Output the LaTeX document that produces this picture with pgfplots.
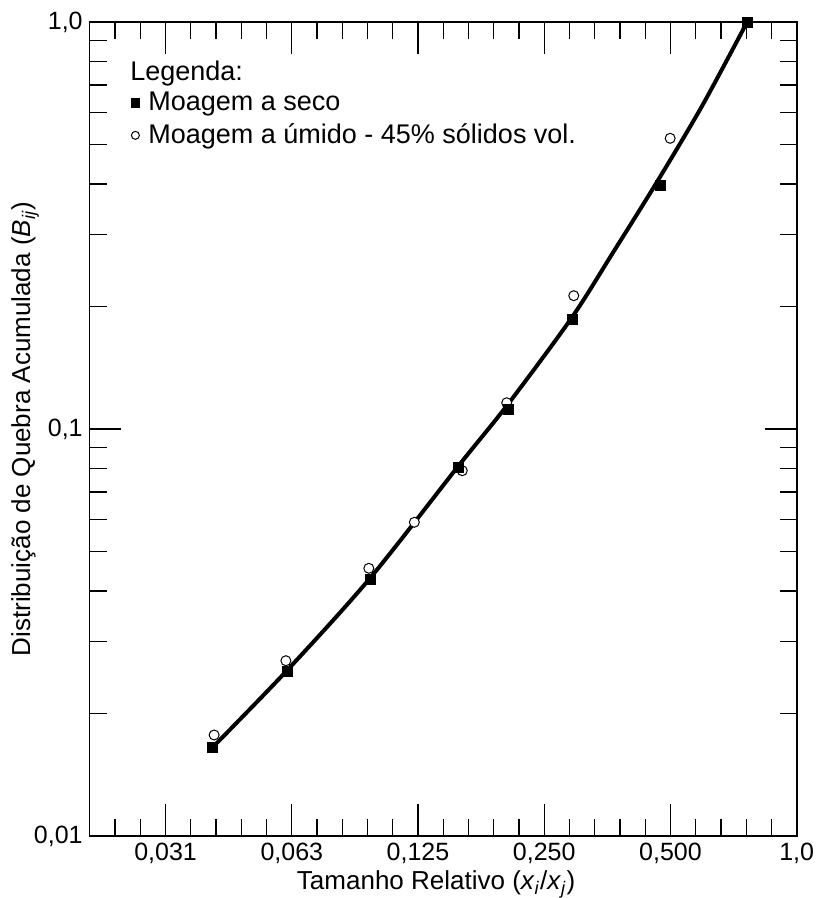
\documentclass[border=0pt]{standalone}
\usepackage{pgfplots}
\pgfplotsset{compat=1.18}
\usepackage{fontspec}
\setmainfont{Liberation Sans}

\begin{document}
\begin{tikzpicture}
\begin{axis}[
  scale only axis, width=353.5pt, height=407pt,
  xmode=log, ymode=log,
  xmin=0.0206, xmax=1, ymin=0.01, ymax=1,
  xtick={0.03125,0.0625,0.125,0.25,0.5,1},
  xticklabels={{0,031},{0,063},{0,125},{0,250},{0,500},{1,0}},
  minor xtick={0.023683,0.027205,0.035897,0.041235,0.047366,0.054409,0.071794,0.082469,0.094732,0.108819,0.143587,0.164938,0.189465,0.217638,0.287175,0.329877,0.378929,0.435275,0.574349,0.659754,0.757858,0.870551},
  ytick={0.01,0.1,1},
  yticklabels={{0,01},{0,1},{1,0}},
  minor ytick={0.02,0.03,0.04,0.05,0.06,0.07,0.08,0.09,0.2,0.3,0.4,0.5,0.6,0.7,0.8,0.9},
  tick align=inside,
  major tick length=16pt, minor tick length=8.5pt,
  every tick/.style={black, line width=0.6pt},
  axis line style={line width=0.8pt},
  ticklabel style={font=\fontsize{12.5}{15}\selectfont},
  xlabel={Tamanho Relativo (\textit{x}\textsubscript{\textit{i}}/\textit{x}\textsubscript{\textit{j}})},
  ylabel={Distribuição de Quebra Acumulada (\textit{B}\textsubscript{\textit{ij}})},
  every axis x label/.style={at={(rel axis cs:0.49,-0.059)}, anchor=center, font=\fontsize{13}{15}\selectfont},
  every axis y label/.style={at={(rel axis cs:-0.0914,0.5)}, rotate=90, anchor=center, font=\fontsize{13}{15}\selectfont},
  legend style={at={(rel axis cs:0.057,0.919)}, anchor=north west, draw=none, fill=none,
    font=\fontsize{13.5}{15}\selectfont, row sep=1pt, inner sep=0pt},
  legend cell align=left,
  legend image code/.code={\draw[#1] plot coordinates {(0pt,0pt)}; \path[draw=none] (-2.5pt,0pt) -- (4.5pt,0pt);},
]
% wet grinding (open circles)
\addplot[only marks, mark=*, mark size=2.5pt, mark options={fill=white, draw=black, line width=0.5pt}, forget plot]
  coordinates {(0.0408,0.01771) (0.0605,0.02696) (0.0954,0.04547) (0.1225,0.0590) (0.1594,0.0790) (0.2034,0.1160) (0.2940,0.2126) (0.4992,0.5179)};
% fitted curve
\addplot[black, line width=2pt, smooth, forget plot]
  coordinates {(0.0401,0.01636) (0.0610,0.02557) (0.0961,0.04304) (0.1560,0.0811) (0.2045,0.1148) (0.2904,0.1874) (0.3654,0.2722) (0.4627,0.4022) (0.5947,0.6218) (0.7619,1.0)};
% dry grinding (filled squares)
\addplot[only marks, mark=square*, mark size=2.5pt, black, forget plot]
  coordinates {(0.0405,0.01651) (0.0609,0.02542) (0.0962,0.04280) (0.1560,0.0805) (0.2049,0.1118) (0.2918,0.1860) (0.4727,0.3977) (0.7619,1.0)};
\addlegendimage{only marks, mark=square*, mark size=2.2pt, black}
\addlegendentry{Moagem a seco}
\addlegendimage{only marks, mark=*, mark size=2pt, mark options={fill=white, draw=black, line width=0.5pt}}
\addlegendentry{Moagem a úmido - 45\% sólidos vol.}
\node[anchor=west, font=\fontsize{13.5}{15}\selectfont, inner sep=0pt] at (rel axis cs:0.057,0.937) {Legenda:};
\coordinate (bl) at (rel axis cs:0,0);
\coordinate (tr) at (rel axis cs:1,1);
\end{axis}
\pgfresetboundingbox
\path ([shift={(-44.85pt,-31pt)}]bl) rectangle ([shift={(11pt,11pt)}]tr);
\end{tikzpicture}
\end{document}
